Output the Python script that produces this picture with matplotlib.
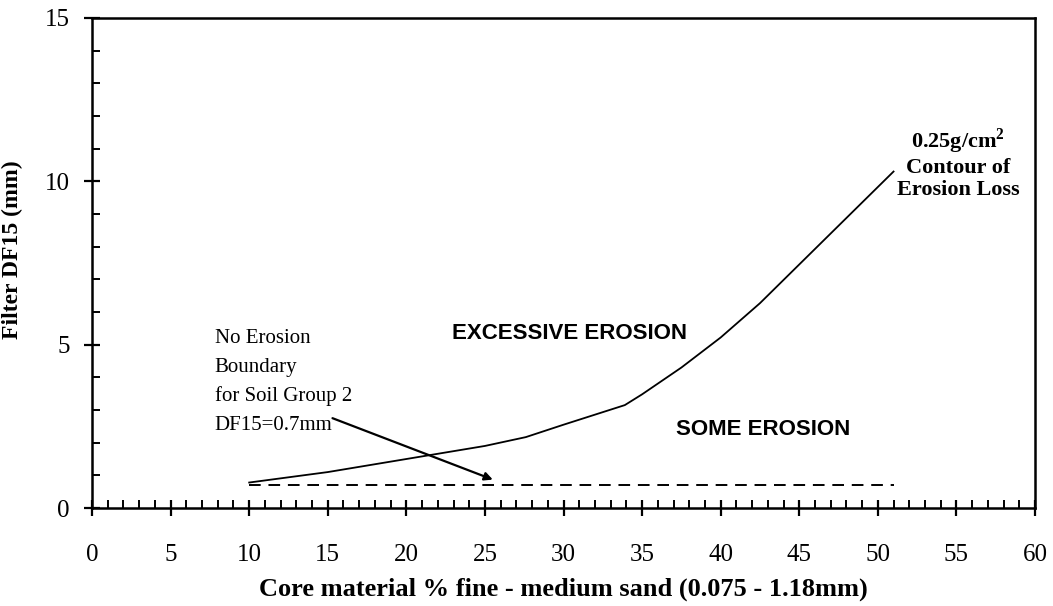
import matplotlib
matplotlib.use("Agg")
import matplotlib.pyplot as plt
from matplotlib.ticker import MultipleLocator

# Data
curve_x = [10, 15, 20, 25, 27.6, 30, 33.9, 35, 37.5, 40, 42.5, 51]
curve_y = [0.78, 1.1, 1.5, 1.9, 2.17, 2.55, 3.15, 3.48, 4.3, 5.22, 6.27, 10.3]
boundary_x = [10, 51]
boundary_y = [0.7, 0.7]
x_ticks = list(range(0, 61, 5))
y_ticks = [0, 5, 10, 15]
note_lines = ["No Erosion", "Boundary", "for Soil Group 2", "DF15=0.7mm"]

serif = "Liberation Serif"
sans = "Liberation Sans"
plt.rcParams["mathtext.fontset"] = "custom"
plt.rcParams["mathtext.rm"] = "Liberation Serif"
plt.rcParams["mathtext.bf"] = "Liberation Serif:bold"

fig = plt.figure(figsize=(10.53, 6.06), dpi=100)
ax = fig.add_axes([0.0874, 0.1617, 0.8955, 0.8086])

ax.plot(curve_x, curve_y, color="black", lw=1.3)
ax.plot(boundary_x, boundary_y, color="black", lw=1.4, dashes=(6, 4))

ax.set_xlim(0, 60)
ax.set_ylim(0, 15)
ax.set_xticks(x_ticks)
ax.set_yticks(y_ticks)
ax.xaxis.set_minor_locator(MultipleLocator(1))
ax.yaxis.set_minor_locator(MultipleLocator(1))
ax.tick_params(axis="both", which="major", direction="inout", length=12, width=1.6,
               labelsize=18, top=False, right=False)
ax.tick_params(axis="both", which="minor", direction="in", length=6, width=1.4,
               top=False, right=False)
ax.tick_params(axis="x", which="major", pad=20)
ax.tick_params(axis="y", which="major", pad=10)
for lab in ax.get_xticklabels() + ax.get_yticklabels():
    lab.set_fontfamily(serif)
for sp in ax.spines.values():
    sp.set_linewidth(1.8)

ax.set_xlabel("Core material % fine - medium sand (0.075 - 1.18mm)", fontsize=19,
              fontweight="bold", fontfamily=serif, labelpad=8)
ax.set_ylabel("Filter DF15 (mm)", fontsize=17, fontweight="bold", fontfamily=serif)
ax.yaxis.set_label_coords(-0.073, 0.527)

# note text, one line at a time with even baseline spacing (29 px)
for i, line in enumerate(note_lines):
    ax.annotate(line, xy=(7.8, 5.05), xycoords="data",
                xytext=(0, -29 * i * 0.72), textcoords="offset points",
                fontsize=15, fontfamily=serif, ha="left", va="baseline")
ax.annotate("", xy=(25.5, 0.87), xytext=(15.3, 2.75),
            arrowprops=dict(arrowstyle="-|>", color="black", lw=1.6,
                            mutation_scale=12, shrinkA=0, shrinkB=0))

ax.text(30.4, 5.35, "EXCESSIVE EROSION", fontsize=16, fontweight="bold",
        fontfamily=sans, ha="center", va="center")
ax.text(42.7, 2.4, "SOME EROSION", fontsize=16, fontweight="bold",
        fontfamily=sans, ha="center", va="center")
ax.text(55.1, 10.55, "0.25g/cm$^{\\mathbf{2}}$\nContour of\nErosion Loss", fontsize=16,
        fontweight="bold", fontfamily=serif, ha="center", va="center", linespacing=1.15)

fig.savefig("out.png", dpi=100)
